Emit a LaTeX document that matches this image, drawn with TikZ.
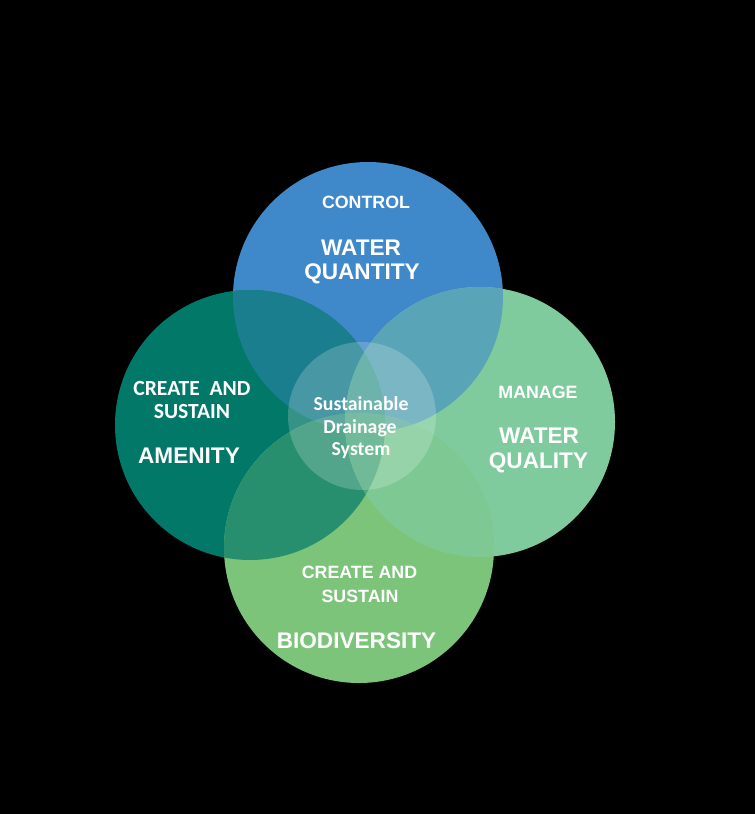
\documentclass[tikz,border=0pt]{standalone}
\usepackage{fontspec}
\newfontfamily\arl{Liberation Sans}
\newfontfamily\crl{Carlito}
\definecolor{cB}{RGB}{63,136,201}
\definecolor{cT}{RGB}{2,120,104}
\definecolor{cR}{RGB}{127,203,158}
\definecolor{cG}{RGB}{124,196,122}
\colorlet{cBT}{cT!60!cB}
\colorlet{cBR}{cR!42!cB}
\colorlet{cBG}{cG!30!cB}
\colorlet{cTR}{cR!45!cT}
\colorlet{cTG}{cG!30!cT}
\colorlet{cRG}{cG!30!cR}
\colorlet{cBTR}{cR!45!cBT}
\colorlet{cBTG}{cG!30!cBT}
\colorlet{cBRG}{cG!30!cBR}
\colorlet{cTRG}{cG!30!cTR}
\colorlet{cBTRG}{cG!30!cBTR}
\tikzset{
  txt/.style={text=white, inner sep=0pt, anchor=base},
  big/.style={txt, font=\arl\bfseries\fontsize{22.6}{25}\selectfont},
  small/.style={txt, font=\arl\bfseries\fontsize{17.8}{20}\selectfont},
  cbig/.style={txt, font=\crl\bfseries\fontsize{21.6}{24}\selectfont},
  ctr/.style={txt, font=\crl\bfseries\fontsize{19.8}{22}\selectfont}
}
\newcommand\rr{135pt}
\begin{document}
\begin{tikzpicture}[x=1pt,y=-1pt]
\fill[black] (0,0) rectangle (755,814);
\useasboundingbox (0,0) rectangle (755,814);
\coordinate (pB) at (368,297);
\coordinate (pT) at (250,425);
\coordinate (pR) at (480,422);
\coordinate (pG) at (359,548);
\coordinate (pC) at (362,416);
% single circles
\fill[cB] (pB) circle (\rr);
\fill[cT] (pT) circle (\rr);
\fill[cR] (pR) circle (\rr);
\fill[cG] (pG) circle (\rr);
% pairs
\begin{scope}\clip (pB) circle (\rr); \fill[cBT] (pT) circle (\rr);\end{scope}
\begin{scope}\clip (pB) circle (\rr); \fill[cBR] (pR) circle (\rr);\end{scope}
\begin{scope}\clip (pB) circle (\rr); \fill[cBG] (pG) circle (\rr);\end{scope}
\begin{scope}\clip (pT) circle (\rr); \fill[cTR] (pR) circle (\rr);\end{scope}
\begin{scope}\clip (pT) circle (\rr); \fill[cTG] (pG) circle (\rr);\end{scope}
\begin{scope}\clip (pR) circle (\rr); \fill[cRG] (pG) circle (\rr);\end{scope}
% triples
\begin{scope}\clip (pB) circle (\rr); \clip (pT) circle (\rr); \fill[cBTR] (pR) circle (\rr);\end{scope}
\begin{scope}\clip (pB) circle (\rr); \clip (pT) circle (\rr); \fill[cBTG] (pG) circle (\rr);\end{scope}
\begin{scope}\clip (pB) circle (\rr); \clip (pR) circle (\rr); \fill[cBRG] (pG) circle (\rr);\end{scope}
\begin{scope}\clip (pT) circle (\rr); \clip (pR) circle (\rr); \fill[cTRG] (pG) circle (\rr);\end{scope}
% quadruple
\begin{scope}\clip (pB) circle (\rr); \clip (pT) circle (\rr); \clip (pR) circle (\rr); \fill[cBTRG] (pG) circle (\rr);\end{scope}
% centre circle
\fill[white, fill opacity=0.2] (pC) circle (74pt);
% texts
\node[small] (control) at (366,208) {CONTROL};
\node[big] (wq1) at (361,255) {WATER};
\node[big] (wq2) at (362,279) {QUANTITY};
\node[cbig] (am1) at (192,395) {CREATE\ \ AND};
\node[cbig] (am2) at (192,418) {SUSTAIN};
\node[big] (am3) at (189,463) {AMENITY};
\node[ctr] (s1) at (361,410) {Sustainable};
\node[ctr] (s2) at (360,433) {Drainage};
\node[ctr] (s3) at (361,455) {System};
\node[small] (manage) at (538,398) {MANAGE};
\node[big] (wql1) at (539,443) {WATER};
\node[big] (wql2) at (538.5,468) {QUALITY};
\node[small] (bd1) at (359.5,578) {CREATE AND};
\node[small] (bd2) at (360,602) {SUSTAIN};
\node[big] (bd3) at (356.5,648) {BIODIVERSITY};
\end{tikzpicture}
\end{document}
